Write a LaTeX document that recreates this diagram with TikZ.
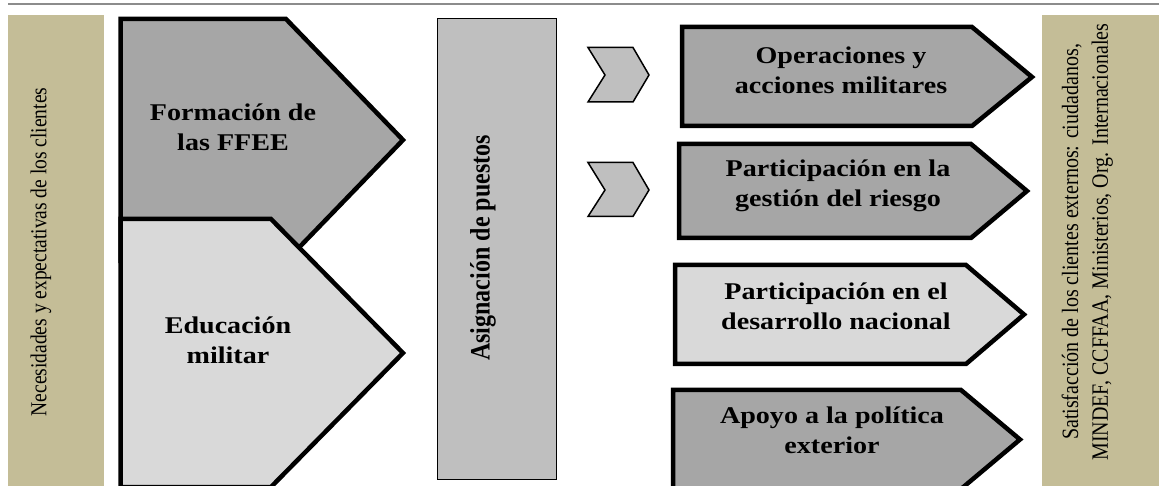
\documentclass[tikz,border=0pt]{standalone}
\usepackage{fontspec}
\usepackage{graphicx}
\setmainfont{Liberation Serif}
\newfontfamily\widefont{Liberation Serif}[FakeStretch=1.17]
\definecolor{tanbox}{HTML}{C4BD97}
\definecolor{darkfill}{HTML}{A6A6A6}
\definecolor{lightfill}{HTML}{D9D9D9}
\definecolor{midfill}{HTML}{BFBFBF}
\definecolor{rulegray}{HTML}{8C8C8C}
\tikzset{
  thickshape/.style={draw=black, line width=4.5bp, line join=miter},
  chevronshape/.style={draw=black, line width=1.5bp, fill=midfill, line join=miter},
  lbl/.style={align=center, inner sep=0pt, font=\widefont\bfseries\fontsize{24bp}{30bp}\selectfont},
  sidelbl/.style={rotate=90, inner sep=0pt}
}
\begin{document}
\begin{tikzpicture}[x=1bp,y=-1bp]
\useasboundingbox (0,0) rectangle (1159,486);
\clip (0,0) rectangle (1159,486);
% top rule
\draw[rulegray, line width=2bp] (8,4) -- (1159,4);
% side tan boxes
\fill[tanbox] (8,15) rectangle (104,490);
\fill[tanbox] (1042,15) rectangle (1165,490);
% Formacion
\draw[thickshape, fill=darkfill] (120.5,19) -- (286,19) -- (403,140) -- (286,261) -- (120.5,261) -- cycle;
% Educacion
\draw[thickshape, fill=lightfill] (120.5,219) -- (271,219) -- (403,353) -- (271,487) -- (120.5,487) -- (120.5,600) -- cycle;
% Asignacion box
\draw[black, line width=1bp, fill=midfill] (437.5,18.5) rectangle (556.5,479.5);
% chevrons
\draw[chevronshape] (588,47.5) -- (633,47.5) -- (649,75) -- (633,102) -- (588,102) -- (605,75) -- cycle;
\draw[chevronshape] (588,162.5) -- (633,162.5) -- (649,190) -- (633,216.5) -- (588,216.5) -- (605,190) -- cycle;
% right arrows
\draw[thickshape, fill=darkfill] (682,27) -- (972,27) -- (1032,77) -- (972,126) -- (682,126) -- cycle;
\draw[thickshape, fill=darkfill] (679,144) -- (971,144) -- (1027,191) -- (971,238) -- (679,238) -- cycle;
\draw[thickshape, fill=lightfill] (675,265) -- (966,265) -- (1024,314.5) -- (966,364) -- (675,364) -- cycle;
\draw[thickshape, fill=darkfill] (673,390) -- (961,390) -- (1020,439.5) -- (961,489) -- (673,489) -- cycle;
% labels
\node[lbl] (formacion) at (233,127) {Formación de\\las FFEE};
\node[lbl] (educacion) at (228,340) {Educación\\militar};
\node[lbl] (operaciones) at (841,70) {Operaciones y\\acciones militares};
\node[lbl] (gestion) at (838,186) {Participación en la\\gestión del riesgo};
\node[lbl] (desarrollo) at (836,306) {Participación en el\\desarrollo nacional};
\node[lbl] (apoyo) at (832,430) {Apoyo a la política\\exterior};
\node[sidelbl] (asignacion) at (483,248) {\scalebox{1}[1.17]{\fontsize{24bp}{30bp}\selectfont\bfseries Asignación de puestos}};
\node[sidelbl] (necesidades) at (41,252) {\scalebox{1}[1.17]{\fontsize{19.5bp}{24bp}\selectfont Necesidades y expectativas de los clientes}};
\node[sidelbl] (satisfaccion) at (1087,242) {\scalebox{1}[1.17]{\fontsize{20bp}{25.6bp}\selectfont\begin{tabular}{@{}c@{}}Satisfacción de los clientes externos: ciudadanos,\\MINDEF, CCFFAA, Ministerios, Org. Internacionales\end{tabular}}};
\end{tikzpicture}
\end{document}
